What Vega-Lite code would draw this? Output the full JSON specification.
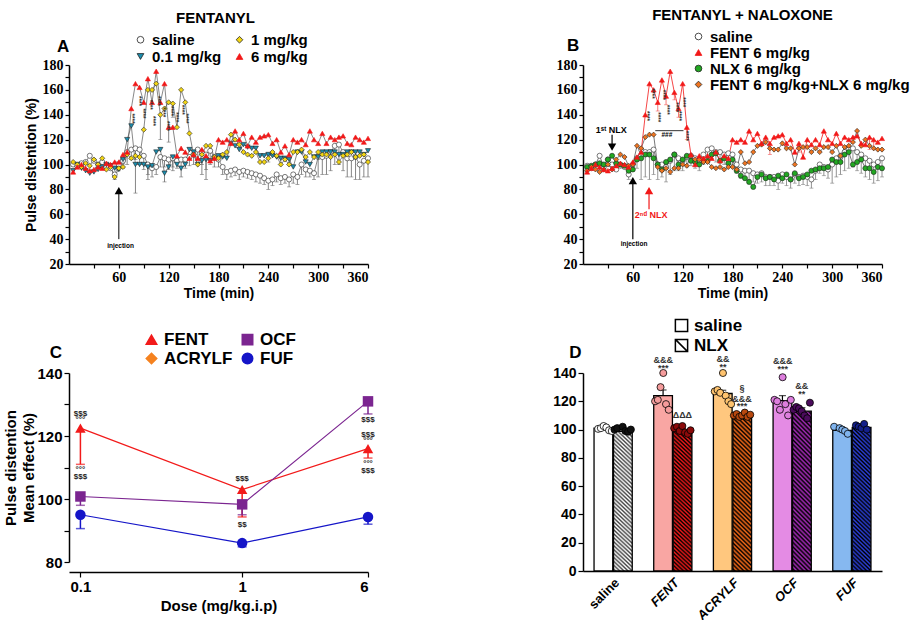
{
"$schema": "https://vega.github.io/schema/vega-lite/v6.json",
"background": "white",
"padding": {"left": 3, "top": 8, "right": 0, "bottom": 0},
"config": {
 "view": {"stroke": null},
 "font": "Liberation Sans",
 "axis": {"grid": false, "labelOverlap": false, "domainColor": "#000", "domainWidth": 1.5, "tickColor": "#000", "tickWidth": 1.2, "labelColor": "#000", "titleColor": "#000", "labelFontWeight": "bold", "titleFontWeight": "bold", "labelFont": "Liberation Sans", "titleFont": "Liberation Sans"},
 "legend": {"labelFont": "Liberation Sans", "labelFontWeight": "bold", "labelColor": "#000", "labelLimit": 400, "symbolOpacity": 1}
},
"datasets": {
"ts": [
{"p":"A","s":"saline","t":5,"v":100},{"p":"A","s":"saline","t":10,"v":99},{"p":"A","s":"saline","t":15,"v":101},{"p":"A","s":"saline","t":20,"v":102},{"p":"A","s":"saline","t":25,"v":107},{"p":"A","s":"saline","t":30,"v":103},{"p":"A","s":"saline","t":35,"v":100},{"p":"A","s":"saline","t":40,"v":102},{"p":"A","s":"saline","t":45,"v":98},{"p":"A","s":"saline","t":50,"v":97},{"p":"A","s":"saline","t":55,"v":92,"lo":88},{"p":"A","s":"saline","t":60,"v":100,"lo":95},{"p":"A","s":"saline","t":65,"v":103,"lo":97},{"p":"A","s":"saline","t":70,"v":110,"lo":100},{"p":"A","s":"saline","t":75,"v":112,"lo":104},{"p":"A","s":"saline","t":80,"v":113,"lo":104},{"p":"A","s":"saline","t":85,"v":112,"lo":100},{"p":"A","s":"saline","t":90,"v":107,"lo":96},{"p":"A","s":"saline","t":95,"v":100,"lo":92},{"p":"A","s":"saline","t":100,"v":97,"lo":90},{"p":"A","s":"saline","t":105,"v":98,"lo":92},{"p":"A","s":"saline","t":110,"v":106,"lo":98},{"p":"A","s":"saline","t":115,"v":105,"lo":98},{"p":"A","s":"saline","t":120,"v":104,"lo":96},{"p":"A","s":"saline","t":125,"v":105,"lo":98},{"p":"A","s":"saline","t":130,"v":103,"lo":97},{"p":"A","s":"saline","t":135,"v":104,"lo":98},{"p":"A","s":"saline","t":140,"v":104,"lo":97},{"p":"A","s":"saline","t":145,"v":106,"lo":99},{"p":"A","s":"saline","t":150,"v":108,"lo":100},{"p":"A","s":"saline","t":155,"v":112,"lo":104},{"p":"A","s":"saline","t":160,"v":110,"lo":100},{"p":"A","s":"saline","t":165,"v":108,"lo":96},{"p":"A","s":"saline","t":170,"v":111,"lo":100},{"p":"A","s":"saline","t":175,"v":106,"lo":98},{"p":"A","s":"saline","t":180,"v":104,"lo":98},{"p":"A","s":"saline","t":185,"v":98,"lo":92},{"p":"A","s":"saline","t":190,"v":94,"lo":88},{"p":"A","s":"saline","t":195,"v":95,"lo":90},{"p":"A","s":"saline","t":200,"v":96,"lo":91},{"p":"A","s":"saline","t":205,"v":94,"lo":88},{"p":"A","s":"saline","t":210,"v":95,"lo":90},{"p":"A","s":"saline","t":215,"v":94,"lo":89},{"p":"A","s":"saline","t":220,"v":93,"lo":88},{"p":"A","s":"saline","t":225,"v":92,"lo":86},{"p":"A","s":"saline","t":230,"v":91,"lo":85},{"p":"A","s":"saline","t":235,"v":89,"lo":84},{"p":"A","s":"saline","t":240,"v":87,"lo":80},{"p":"A","s":"saline","t":245,"v":88,"lo":83},{"p":"A","s":"saline","t":250,"v":92,"lo":86},{"p":"A","s":"saline","t":255,"v":89,"lo":84},{"p":"A","s":"saline","t":260,"v":90,"lo":85},{"p":"A","s":"saline","t":265,"v":88,"lo":82},{"p":"A","s":"saline","t":270,"v":92,"lo":85},{"p":"A","s":"saline","t":275,"v":90,"lo":84},{"p":"A","s":"saline","t":280,"v":100,"lo":92},{"p":"A","s":"saline","t":285,"v":96,"lo":90},{"p":"A","s":"saline","t":290,"v":95,"lo":90},{"p":"A","s":"saline","t":295,"v":93,"lo":88},{"p":"A","s":"saline","t":300,"v":106,"lo":90},{"p":"A","s":"saline","t":305,"v":106,"lo":92},{"p":"A","s":"saline","t":310,"v":107,"lo":92},{"p":"A","s":"saline","t":315,"v":110,"lo":95},{"p":"A","s":"saline","t":320,"v":115,"lo":100},{"p":"A","s":"saline","t":325,"v":116,"lo":100},{"p":"A","s":"saline","t":330,"v":110,"lo":95},{"p":"A","s":"saline","t":335,"v":105,"lo":90},{"p":"A","s":"saline","t":340,"v":105,"lo":90},{"p":"A","s":"saline","t":345,"v":106,"lo":88},{"p":"A","s":"saline","t":350,"v":100,"lo":88},{"p":"A","s":"saline","t":355,"v":103,"lo":90},{"p":"A","s":"saline","t":360,"v":105,"lo":90},
{"p":"A","s":"0.1 mg/kg","t":5,"v":95},{"p":"A","s":"0.1 mg/kg","t":10,"v":100},{"p":"A","s":"0.1 mg/kg","t":15,"v":97},{"p":"A","s":"0.1 mg/kg","t":20,"v":95},{"p":"A","s":"0.1 mg/kg","t":25,"v":93},{"p":"A","s":"0.1 mg/kg","t":30,"v":94},{"p":"A","s":"0.1 mg/kg","t":35,"v":96},{"p":"A","s":"0.1 mg/kg","t":40,"v":98},{"p":"A","s":"0.1 mg/kg","t":45,"v":100},{"p":"A","s":"0.1 mg/kg","t":50,"v":99},{"p":"A","s":"0.1 mg/kg","t":55,"v":97},{"p":"A","s":"0.1 mg/kg","t":60,"v":96},{"p":"A","s":"0.1 mg/kg","t":65,"v":104},{"p":"A","s":"0.1 mg/kg","t":70,"v":120},{"p":"A","s":"0.1 mg/kg","t":75,"v":131},{"p":"A","s":"0.1 mg/kg","t":80,"v":100,"lo":77},{"p":"A","s":"0.1 mg/kg","t":85,"v":100},{"p":"A","s":"0.1 mg/kg","t":90,"v":100},{"p":"A","s":"0.1 mg/kg","t":95,"v":98,"lo":88},{"p":"A","s":"0.1 mg/kg","t":100,"v":99},{"p":"A","s":"0.1 mg/kg","t":105,"v":110},{"p":"A","s":"0.1 mg/kg","t":110,"v":112},{"p":"A","s":"0.1 mg/kg","t":115,"v":93,"lo":86},{"p":"A","s":"0.1 mg/kg","t":120,"v":98},{"p":"A","s":"0.1 mg/kg","t":125,"v":106,"lo":95},{"p":"A","s":"0.1 mg/kg","t":130,"v":100},{"p":"A","s":"0.1 mg/kg","t":135,"v":97,"lo":90},{"p":"A","s":"0.1 mg/kg","t":140,"v":100},{"p":"A","s":"0.1 mg/kg","t":145,"v":112},{"p":"A","s":"0.1 mg/kg","t":150,"v":110},{"p":"A","s":"0.1 mg/kg","t":155,"v":100},{"p":"A","s":"0.1 mg/kg","t":160,"v":103,"lo":92},{"p":"A","s":"0.1 mg/kg","t":165,"v":104,"lo":88},{"p":"A","s":"0.1 mg/kg","t":170,"v":103},{"p":"A","s":"0.1 mg/kg","t":175,"v":105},{"p":"A","s":"0.1 mg/kg","t":180,"v":107},{"p":"A","s":"0.1 mg/kg","t":185,"v":106},{"p":"A","s":"0.1 mg/kg","t":190,"v":105},{"p":"A","s":"0.1 mg/kg","t":195,"v":117},{"p":"A","s":"0.1 mg/kg","t":200,"v":115},{"p":"A","s":"0.1 mg/kg","t":205,"v":112},{"p":"A","s":"0.1 mg/kg","t":210,"v":116},{"p":"A","s":"0.1 mg/kg","t":215,"v":114},{"p":"A","s":"0.1 mg/kg","t":220,"v":113},{"p":"A","s":"0.1 mg/kg","t":225,"v":113},{"p":"A","s":"0.1 mg/kg","t":230,"v":107},{"p":"A","s":"0.1 mg/kg","t":235,"v":107},{"p":"A","s":"0.1 mg/kg","t":240,"v":108,"lo":102},{"p":"A","s":"0.1 mg/kg","t":245,"v":107},{"p":"A","s":"0.1 mg/kg","t":250,"v":106},{"p":"A","s":"0.1 mg/kg","t":255,"v":105,"lo":100},{"p":"A","s":"0.1 mg/kg","t":260,"v":105},{"p":"A","s":"0.1 mg/kg","t":265,"v":104},{"p":"A","s":"0.1 mg/kg","t":270,"v":98},{"p":"A","s":"0.1 mg/kg","t":275,"v":110},{"p":"A","s":"0.1 mg/kg","t":280,"v":110},{"p":"A","s":"0.1 mg/kg","t":285,"v":102},{"p":"A","s":"0.1 mg/kg","t":290,"v":100},{"p":"A","s":"0.1 mg/kg","t":295,"v":106},{"p":"A","s":"0.1 mg/kg","t":300,"v":106},{"p":"A","s":"0.1 mg/kg","t":305,"v":110},{"p":"A","s":"0.1 mg/kg","t":310,"v":110},{"p":"A","s":"0.1 mg/kg","t":315,"v":110},{"p":"A","s":"0.1 mg/kg","t":320,"v":110},{"p":"A","s":"0.1 mg/kg","t":325,"v":108},{"p":"A","s":"0.1 mg/kg","t":330,"v":108},{"p":"A","s":"0.1 mg/kg","t":335,"v":110},{"p":"A","s":"0.1 mg/kg","t":340,"v":110},{"p":"A","s":"0.1 mg/kg","t":345,"v":110},{"p":"A","s":"0.1 mg/kg","t":350,"v":110},{"p":"A","s":"0.1 mg/kg","t":355,"v":108},{"p":"A","s":"0.1 mg/kg","t":360,"v":111},
{"p":"A","s":"1 mg/kg","t":5,"v":102},{"p":"A","s":"1 mg/kg","t":10,"v":100},{"p":"A","s":"1 mg/kg","t":15,"v":98},{"p":"A","s":"1 mg/kg","t":20,"v":101},{"p":"A","s":"1 mg/kg","t":25,"v":99},{"p":"A","s":"1 mg/kg","t":30,"v":104},{"p":"A","s":"1 mg/kg","t":35,"v":100},{"p":"A","s":"1 mg/kg","t":40,"v":105},{"p":"A","s":"1 mg/kg","t":45,"v":96},{"p":"A","s":"1 mg/kg","t":50,"v":98},{"p":"A","s":"1 mg/kg","t":55,"v":90},{"p":"A","s":"1 mg/kg","t":60,"v":97},{"p":"A","s":"1 mg/kg","t":65,"v":98},{"p":"A","s":"1 mg/kg","t":70,"v":108},{"p":"A","s":"1 mg/kg","t":75,"v":105},{"p":"A","s":"1 mg/kg","t":80,"v":107},{"p":"A","s":"1 mg/kg","t":85,"v":106},{"p":"A","s":"1 mg/kg","t":90,"v":128},{"p":"A","s":"1 mg/kg","t":95,"v":160},{"p":"A","s":"1 mg/kg","t":100,"v":160},{"p":"A","s":"1 mg/kg","t":105,"v":165},{"p":"A","s":"1 mg/kg","t":110,"v":140,"lo":120},{"p":"A","s":"1 mg/kg","t":115,"v":145},{"p":"A","s":"1 mg/kg","t":120,"v":150},{"p":"A","s":"1 mg/kg","t":125,"v":149,"lo":138},{"p":"A","s":"1 mg/kg","t":130,"v":130},{"p":"A","s":"1 mg/kg","t":135,"v":160},{"p":"A","s":"1 mg/kg","t":140,"v":150},{"p":"A","s":"1 mg/kg","t":145,"v":125},{"p":"A","s":"1 mg/kg","t":150,"v":108},{"p":"A","s":"1 mg/kg","t":155,"v":100},{"p":"A","s":"1 mg/kg","t":160,"v":108},{"p":"A","s":"1 mg/kg","t":165,"v":115},{"p":"A","s":"1 mg/kg","t":170,"v":115},{"p":"A","s":"1 mg/kg","t":175,"v":106},{"p":"A","s":"1 mg/kg","t":180,"v":105},{"p":"A","s":"1 mg/kg","t":185,"v":108},{"p":"A","s":"1 mg/kg","t":190,"v":110},{"p":"A","s":"1 mg/kg","t":195,"v":124},{"p":"A","s":"1 mg/kg","t":200,"v":120},{"p":"A","s":"1 mg/kg","t":205,"v":116},{"p":"A","s":"1 mg/kg","t":210,"v":110},{"p":"A","s":"1 mg/kg","t":215,"v":108},{"p":"A","s":"1 mg/kg","t":220,"v":107},{"p":"A","s":"1 mg/kg","t":225,"v":110},{"p":"A","s":"1 mg/kg","t":230,"v":102},{"p":"A","s":"1 mg/kg","t":235,"v":102},{"p":"A","s":"1 mg/kg","t":240,"v":105},{"p":"A","s":"1 mg/kg","t":245,"v":110},{"p":"A","s":"1 mg/kg","t":250,"v":107},{"p":"A","s":"1 mg/kg","t":255,"v":100},{"p":"A","s":"1 mg/kg","t":260,"v":104},{"p":"A","s":"1 mg/kg","t":265,"v":100},{"p":"A","s":"1 mg/kg","t":270,"v":110},{"p":"A","s":"1 mg/kg","t":275,"v":110},{"p":"A","s":"1 mg/kg","t":280,"v":112},{"p":"A","s":"1 mg/kg","t":285,"v":106},{"p":"A","s":"1 mg/kg","t":290,"v":110},{"p":"A","s":"1 mg/kg","t":295,"v":106},{"p":"A","s":"1 mg/kg","t":300,"v":110},{"p":"A","s":"1 mg/kg","t":305,"v":108},{"p":"A","s":"1 mg/kg","t":310,"v":108},{"p":"A","s":"1 mg/kg","t":315,"v":106},{"p":"A","s":"1 mg/kg","t":320,"v":108},{"p":"A","s":"1 mg/kg","t":325,"v":102},{"p":"A","s":"1 mg/kg","t":330,"v":107},{"p":"A","s":"1 mg/kg","t":335,"v":108},{"p":"A","s":"1 mg/kg","t":340,"v":110},{"p":"A","s":"1 mg/kg","t":345,"v":106},{"p":"A","s":"1 mg/kg","t":350,"v":107},{"p":"A","s":"1 mg/kg","t":355,"v":108},{"p":"A","s":"1 mg/kg","t":360,"v":102},
{"p":"A","s":"6 mg/kg","t":5,"v":94},{"p":"A","s":"6 mg/kg","t":10,"v":98},{"p":"A","s":"6 mg/kg","t":15,"v":100},{"p":"A","s":"6 mg/kg","t":20,"v":97},{"p":"A","s":"6 mg/kg","t":25,"v":95},{"p":"A","s":"6 mg/kg","t":30,"v":96},{"p":"A","s":"6 mg/kg","t":35,"v":98},{"p":"A","s":"6 mg/kg","t":40,"v":97},{"p":"A","s":"6 mg/kg","t":45,"v":101},{"p":"A","s":"6 mg/kg","t":50,"v":100},{"p":"A","s":"6 mg/kg","t":55,"v":102},{"p":"A","s":"6 mg/kg","t":60,"v":102},{"p":"A","s":"6 mg/kg","t":65,"v":108},{"p":"A","s":"6 mg/kg","t":70,"v":110},{"p":"A","s":"6 mg/kg","t":75,"v":145},{"p":"A","s":"6 mg/kg","t":80,"v":165},{"p":"A","s":"6 mg/kg","t":85,"v":162},{"p":"A","s":"6 mg/kg","t":90,"v":150},{"p":"A","s":"6 mg/kg","t":95,"v":169},{"p":"A","s":"6 mg/kg","t":100,"v":150},{"p":"A","s":"6 mg/kg","t":105,"v":175},{"p":"A","s":"6 mg/kg","t":110,"v":150},{"p":"A","s":"6 mg/kg","t":115,"v":165},{"p":"A","s":"6 mg/kg","t":120,"v":130,"lo":118},{"p":"A","s":"6 mg/kg","t":125,"v":130},{"p":"A","s":"6 mg/kg","t":130,"v":107},{"p":"A","s":"6 mg/kg","t":135,"v":113},{"p":"A","s":"6 mg/kg","t":140,"v":110},{"p":"A","s":"6 mg/kg","t":145,"v":105},{"p":"A","s":"6 mg/kg","t":150,"v":108},{"p":"A","s":"6 mg/kg","t":155,"v":105},{"p":"A","s":"6 mg/kg","t":160,"v":112},{"p":"A","s":"6 mg/kg","t":165,"v":107},{"p":"A","s":"6 mg/kg","t":170,"v":103},{"p":"A","s":"6 mg/kg","t":175,"v":105},{"p":"A","s":"6 mg/kg","t":180,"v":120},{"p":"A","s":"6 mg/kg","t":185,"v":118},{"p":"A","s":"6 mg/kg","t":190,"v":120},{"p":"A","s":"6 mg/kg","t":195,"v":117},{"p":"A","s":"6 mg/kg","t":200,"v":127},{"p":"A","s":"6 mg/kg","t":205,"v":120},{"p":"A","s":"6 mg/kg","t":210,"v":125},{"p":"A","s":"6 mg/kg","t":215,"v":115},{"p":"A","s":"6 mg/kg","t":220,"v":122},{"p":"A","s":"6 mg/kg","t":225,"v":118},{"p":"A","s":"6 mg/kg","t":230,"v":122},{"p":"A","s":"6 mg/kg","t":235,"v":123},{"p":"A","s":"6 mg/kg","t":240,"v":124},{"p":"A","s":"6 mg/kg","t":245,"v":117},{"p":"A","s":"6 mg/kg","t":250,"v":120},{"p":"A","s":"6 mg/kg","t":255,"v":110},{"p":"A","s":"6 mg/kg","t":260,"v":115},{"p":"A","s":"6 mg/kg","t":265,"v":108},{"p":"A","s":"6 mg/kg","t":270,"v":120},{"p":"A","s":"6 mg/kg","t":275,"v":118},{"p":"A","s":"6 mg/kg","t":280,"v":120},{"p":"A","s":"6 mg/kg","t":285,"v":116},{"p":"A","s":"6 mg/kg","t":290,"v":127},{"p":"A","s":"6 mg/kg","t":295,"v":120},{"p":"A","s":"6 mg/kg","t":300,"v":117},{"p":"A","s":"6 mg/kg","t":305,"v":125},{"p":"A","s":"6 mg/kg","t":310,"v":117},{"p":"A","s":"6 mg/kg","t":315,"v":122},{"p":"A","s":"6 mg/kg","t":320,"v":120},{"p":"A","s":"6 mg/kg","t":325,"v":122},{"p":"A","s":"6 mg/kg","t":330,"v":123},{"p":"A","s":"6 mg/kg","t":335,"v":117},{"p":"A","s":"6 mg/kg","t":340,"v":116},{"p":"A","s":"6 mg/kg","t":345,"v":122},{"p":"A","s":"6 mg/kg","t":350,"v":120},{"p":"A","s":"6 mg/kg","t":355,"v":118},{"p":"A","s":"6 mg/kg","t":360,"v":121},
{"p":"B","s":"saline","t":5,"v":99},{"p":"B","s":"saline","t":10,"v":97},{"p":"B","s":"saline","t":15,"v":100},{"p":"B","s":"saline","t":20,"v":107},{"p":"B","s":"saline","t":25,"v":98},{"p":"B","s":"saline","t":30,"v":104},{"p":"B","s":"saline","t":35,"v":100},{"p":"B","s":"saline","t":40,"v":96},{"p":"B","s":"saline","t":45,"v":99},{"p":"B","s":"saline","t":50,"v":98},{"p":"B","s":"saline","t":55,"v":92,"lo":88},{"p":"B","s":"saline","t":60,"v":100,"lo":96},{"p":"B","s":"saline","t":65,"v":105,"lo":97},{"p":"B","s":"saline","t":70,"v":112,"lo":88},{"p":"B","s":"saline","t":75,"v":110,"lo":90},{"p":"B","s":"saline","t":80,"v":110,"lo":88},{"p":"B","s":"saline","t":85,"v":112,"lo":92},{"p":"B","s":"saline","t":90,"v":100,"lo":88},{"p":"B","s":"saline","t":95,"v":100,"lo":90},{"p":"B","s":"saline","t":100,"v":98,"lo":86},{"p":"B","s":"saline","t":105,"v":103,"lo":92},{"p":"B","s":"saline","t":110,"v":108,"lo":95},{"p":"B","s":"saline","t":115,"v":105,"lo":95},{"p":"B","s":"saline","t":120,"v":103,"lo":95},{"p":"B","s":"saline","t":125,"v":106,"lo":98},{"p":"B","s":"saline","t":130,"v":107,"lo":99},{"p":"B","s":"saline","t":135,"v":105,"lo":97},{"p":"B","s":"saline","t":140,"v":103,"lo":95},{"p":"B","s":"saline","t":145,"v":108,"lo":100},{"p":"B","s":"saline","t":150,"v":112,"lo":104},{"p":"B","s":"saline","t":155,"v":113,"lo":105},{"p":"B","s":"saline","t":160,"v":110,"lo":102},{"p":"B","s":"saline","t":165,"v":110,"lo":102},{"p":"B","s":"saline","t":170,"v":108,"lo":100},{"p":"B","s":"saline","t":175,"v":109,"lo":101},{"p":"B","s":"saline","t":180,"v":108,"lo":100},{"p":"B","s":"saline","t":185,"v":100,"lo":93},{"p":"B","s":"saline","t":190,"v":96,"lo":89},{"p":"B","s":"saline","t":195,"v":95,"lo":88},{"p":"B","s":"saline","t":200,"v":95,"lo":88},{"p":"B","s":"saline","t":205,"v":93,"lo":86},{"p":"B","s":"saline","t":210,"v":92,"lo":85},{"p":"B","s":"saline","t":215,"v":93,"lo":86},{"p":"B","s":"saline","t":220,"v":90,"lo":83},{"p":"B","s":"saline","t":225,"v":90,"lo":83},{"p":"B","s":"saline","t":230,"v":90,"lo":83},{"p":"B","s":"saline","t":235,"v":87,"lo":80},{"p":"B","s":"saline","t":240,"v":92,"lo":85},{"p":"B","s":"saline","t":245,"v":90,"lo":83},{"p":"B","s":"saline","t":250,"v":88,"lo":81},{"p":"B","s":"saline","t":255,"v":92,"lo":85},{"p":"B","s":"saline","t":260,"v":90,"lo":83},{"p":"B","s":"saline","t":265,"v":91,"lo":84},{"p":"B","s":"saline","t":270,"v":90,"lo":83},{"p":"B","s":"saline","t":275,"v":88,"lo":81},{"p":"B","s":"saline","t":280,"v":95,"lo":88},{"p":"B","s":"saline","t":285,"v":100,"lo":93},{"p":"B","s":"saline","t":290,"v":98,"lo":91},{"p":"B","s":"saline","t":295,"v":96,"lo":89},{"p":"B","s":"saline","t":300,"v":100,"lo":85},{"p":"B","s":"saline","t":305,"v":105,"lo":90},{"p":"B","s":"saline","t":310,"v":107,"lo":92},{"p":"B","s":"saline","t":315,"v":110,"lo":95},{"p":"B","s":"saline","t":320,"v":112,"lo":97},{"p":"B","s":"saline","t":325,"v":113,"lo":98},{"p":"B","s":"saline","t":330,"v":110,"lo":95},{"p":"B","s":"saline","t":335,"v":108,"lo":93},{"p":"B","s":"saline","t":340,"v":105,"lo":90},{"p":"B","s":"saline","t":345,"v":103,"lo":88},{"p":"B","s":"saline","t":350,"v":100,"lo":85},{"p":"B","s":"saline","t":355,"v":102,"lo":87},{"p":"B","s":"saline","t":360,"v":105,"lo":90},
{"p":"B","s":"NLX 6 mg/kg","t":5,"v":98},{"p":"B","s":"NLX 6 mg/kg","t":10,"v":99},{"p":"B","s":"NLX 6 mg/kg","t":15,"v":100},{"p":"B","s":"NLX 6 mg/kg","t":20,"v":101},{"p":"B","s":"NLX 6 mg/kg","t":25,"v":100},{"p":"B","s":"NLX 6 mg/kg","t":30,"v":104},{"p":"B","s":"NLX 6 mg/kg","t":35,"v":107},{"p":"B","s":"NLX 6 mg/kg","t":40,"v":101},{"p":"B","s":"NLX 6 mg/kg","t":45,"v":100},{"p":"B","s":"NLX 6 mg/kg","t":50,"v":99},{"p":"B","s":"NLX 6 mg/kg","t":55,"v":95},{"p":"B","s":"NLX 6 mg/kg","t":60,"v":96},{"p":"B","s":"NLX 6 mg/kg","t":65,"v":104},{"p":"B","s":"NLX 6 mg/kg","t":70,"v":105},{"p":"B","s":"NLX 6 mg/kg","t":75,"v":108},{"p":"B","s":"NLX 6 mg/kg","t":80,"v":108},{"p":"B","s":"NLX 6 mg/kg","t":85,"v":105},{"p":"B","s":"NLX 6 mg/kg","t":90,"v":100},{"p":"B","s":"NLX 6 mg/kg","t":95,"v":96},{"p":"B","s":"NLX 6 mg/kg","t":100,"v":102},{"p":"B","s":"NLX 6 mg/kg","t":105,"v":104},{"p":"B","s":"NLX 6 mg/kg","t":110,"v":108},{"p":"B","s":"NLX 6 mg/kg","t":115,"v":100},{"p":"B","s":"NLX 6 mg/kg","t":120,"v":104},{"p":"B","s":"NLX 6 mg/kg","t":125,"v":107},{"p":"B","s":"NLX 6 mg/kg","t":130,"v":103},{"p":"B","s":"NLX 6 mg/kg","t":135,"v":102},{"p":"B","s":"NLX 6 mg/kg","t":140,"v":100},{"p":"B","s":"NLX 6 mg/kg","t":145,"v":103},{"p":"B","s":"NLX 6 mg/kg","t":150,"v":103},{"p":"B","s":"NLX 6 mg/kg","t":155,"v":108},{"p":"B","s":"NLX 6 mg/kg","t":160,"v":109},{"p":"B","s":"NLX 6 mg/kg","t":165,"v":103},{"p":"B","s":"NLX 6 mg/kg","t":170,"v":105},{"p":"B","s":"NLX 6 mg/kg","t":175,"v":101},{"p":"B","s":"NLX 6 mg/kg","t":180,"v":104},{"p":"B","s":"NLX 6 mg/kg","t":185,"v":95},{"p":"B","s":"NLX 6 mg/kg","t":190,"v":91},{"p":"B","s":"NLX 6 mg/kg","t":195,"v":89},{"p":"B","s":"NLX 6 mg/kg","t":200,"v":86},{"p":"B","s":"NLX 6 mg/kg","t":205,"v":82},{"p":"B","s":"NLX 6 mg/kg","t":210,"v":90},{"p":"B","s":"NLX 6 mg/kg","t":215,"v":92},{"p":"B","s":"NLX 6 mg/kg","t":220,"v":89},{"p":"B","s":"NLX 6 mg/kg","t":225,"v":90},{"p":"B","s":"NLX 6 mg/kg","t":230,"v":88},{"p":"B","s":"NLX 6 mg/kg","t":235,"v":91},{"p":"B","s":"NLX 6 mg/kg","t":240,"v":89},{"p":"B","s":"NLX 6 mg/kg","t":245,"v":92},{"p":"B","s":"NLX 6 mg/kg","t":250,"v":88},{"p":"B","s":"NLX 6 mg/kg","t":255,"v":93},{"p":"B","s":"NLX 6 mg/kg","t":260,"v":89},{"p":"B","s":"NLX 6 mg/kg","t":265,"v":90},{"p":"B","s":"NLX 6 mg/kg","t":270,"v":92},{"p":"B","s":"NLX 6 mg/kg","t":275,"v":95},{"p":"B","s":"NLX 6 mg/kg","t":280,"v":96},{"p":"B","s":"NLX 6 mg/kg","t":285,"v":97},{"p":"B","s":"NLX 6 mg/kg","t":290,"v":97},{"p":"B","s":"NLX 6 mg/kg","t":295,"v":98},{"p":"B","s":"NLX 6 mg/kg","t":300,"v":104},{"p":"B","s":"NLX 6 mg/kg","t":305,"v":102},{"p":"B","s":"NLX 6 mg/kg","t":310,"v":102},{"p":"B","s":"NLX 6 mg/kg","t":315,"v":108},{"p":"B","s":"NLX 6 mg/kg","t":320,"v":110},{"p":"B","s":"NLX 6 mg/kg","t":325,"v":100},{"p":"B","s":"NLX 6 mg/kg","t":330,"v":102},{"p":"B","s":"NLX 6 mg/kg","t":335,"v":104},{"p":"B","s":"NLX 6 mg/kg","t":340,"v":97},{"p":"B","s":"NLX 6 mg/kg","t":345,"v":97},{"p":"B","s":"NLX 6 mg/kg","t":350,"v":94},{"p":"B","s":"NLX 6 mg/kg","t":355,"v":98},{"p":"B","s":"NLX 6 mg/kg","t":360,"v":97},
{"p":"B","s":"FENT 6 mg/kg+NLX 6 mg/kg","t":5,"v":95},{"p":"B","s":"FENT 6 mg/kg+NLX 6 mg/kg","t":10,"v":98},{"p":"B","s":"FENT 6 mg/kg+NLX 6 mg/kg","t":15,"v":96},{"p":"B","s":"FENT 6 mg/kg+NLX 6 mg/kg","t":20,"v":94},{"p":"B","s":"FENT 6 mg/kg+NLX 6 mg/kg","t":25,"v":96},{"p":"B","s":"FENT 6 mg/kg+NLX 6 mg/kg","t":30,"v":100},{"p":"B","s":"FENT 6 mg/kg+NLX 6 mg/kg","t":35,"v":96},{"p":"B","s":"FENT 6 mg/kg+NLX 6 mg/kg","t":40,"v":104},{"p":"B","s":"FENT 6 mg/kg+NLX 6 mg/kg","t":45,"v":108},{"p":"B","s":"FENT 6 mg/kg+NLX 6 mg/kg","t":50,"v":106},{"p":"B","s":"FENT 6 mg/kg+NLX 6 mg/kg","t":55,"v":99},{"p":"B","s":"FENT 6 mg/kg+NLX 6 mg/kg","t":60,"v":100},{"p":"B","s":"FENT 6 mg/kg+NLX 6 mg/kg","t":65,"v":115},{"p":"B","s":"FENT 6 mg/kg+NLX 6 mg/kg","t":70,"v":113},{"p":"B","s":"FENT 6 mg/kg+NLX 6 mg/kg","t":75,"v":122},{"p":"B","s":"FENT 6 mg/kg+NLX 6 mg/kg","t":80,"v":124},{"p":"B","s":"FENT 6 mg/kg+NLX 6 mg/kg","t":85,"v":124},{"p":"B","s":"FENT 6 mg/kg+NLX 6 mg/kg","t":90,"v":98},{"p":"B","s":"FENT 6 mg/kg+NLX 6 mg/kg","t":95,"v":95},{"p":"B","s":"FENT 6 mg/kg+NLX 6 mg/kg","t":100,"v":97},{"p":"B","s":"FENT 6 mg/kg+NLX 6 mg/kg","t":105,"v":94},{"p":"B","s":"FENT 6 mg/kg+NLX 6 mg/kg","t":110,"v":97},{"p":"B","s":"FENT 6 mg/kg+NLX 6 mg/kg","t":115,"v":97},{"p":"B","s":"FENT 6 mg/kg+NLX 6 mg/kg","t":120,"v":100},{"p":"B","s":"FENT 6 mg/kg+NLX 6 mg/kg","t":125,"v":99},{"p":"B","s":"FENT 6 mg/kg+NLX 6 mg/kg","t":130,"v":107},{"p":"B","s":"FENT 6 mg/kg+NLX 6 mg/kg","t":135,"v":104},{"p":"B","s":"FENT 6 mg/kg+NLX 6 mg/kg","t":140,"v":104},{"p":"B","s":"FENT 6 mg/kg+NLX 6 mg/kg","t":145,"v":102},{"p":"B","s":"FENT 6 mg/kg+NLX 6 mg/kg","t":150,"v":102},{"p":"B","s":"FENT 6 mg/kg+NLX 6 mg/kg","t":155,"v":98},{"p":"B","s":"FENT 6 mg/kg+NLX 6 mg/kg","t":160,"v":97},{"p":"B","s":"FENT 6 mg/kg+NLX 6 mg/kg","t":165,"v":98},{"p":"B","s":"FENT 6 mg/kg+NLX 6 mg/kg","t":170,"v":96},{"p":"B","s":"FENT 6 mg/kg+NLX 6 mg/kg","t":175,"v":98},{"p":"B","s":"FENT 6 mg/kg+NLX 6 mg/kg","t":180,"v":98},{"p":"B","s":"FENT 6 mg/kg+NLX 6 mg/kg","t":185,"v":96},{"p":"B","s":"FENT 6 mg/kg+NLX 6 mg/kg","t":190,"v":110},{"p":"B","s":"FENT 6 mg/kg+NLX 6 mg/kg","t":195,"v":101},{"p":"B","s":"FENT 6 mg/kg+NLX 6 mg/kg","t":200,"v":102},{"p":"B","s":"FENT 6 mg/kg+NLX 6 mg/kg","t":205,"v":110},{"p":"B","s":"FENT 6 mg/kg+NLX 6 mg/kg","t":210,"v":115},{"p":"B","s":"FENT 6 mg/kg+NLX 6 mg/kg","t":215,"v":116},{"p":"B","s":"FENT 6 mg/kg+NLX 6 mg/kg","t":220,"v":118},{"p":"B","s":"FENT 6 mg/kg+NLX 6 mg/kg","t":225,"v":113},{"p":"B","s":"FENT 6 mg/kg+NLX 6 mg/kg","t":230,"v":112},{"p":"B","s":"FENT 6 mg/kg+NLX 6 mg/kg","t":235,"v":112},{"p":"B","s":"FENT 6 mg/kg+NLX 6 mg/kg","t":240,"v":117},{"p":"B","s":"FENT 6 mg/kg+NLX 6 mg/kg","t":245,"v":113},{"p":"B","s":"FENT 6 mg/kg+NLX 6 mg/kg","t":250,"v":113},{"p":"B","s":"FENT 6 mg/kg+NLX 6 mg/kg","t":255,"v":100},{"p":"B","s":"FENT 6 mg/kg+NLX 6 mg/kg","t":260,"v":113},{"p":"B","s":"FENT 6 mg/kg+NLX 6 mg/kg","t":265,"v":114},{"p":"B","s":"FENT 6 mg/kg+NLX 6 mg/kg","t":270,"v":114},{"p":"B","s":"FENT 6 mg/kg+NLX 6 mg/kg","t":275,"v":110},{"p":"B","s":"FENT 6 mg/kg+NLX 6 mg/kg","t":280,"v":113},{"p":"B","s":"FENT 6 mg/kg+NLX 6 mg/kg","t":285,"v":110},{"p":"B","s":"FENT 6 mg/kg+NLX 6 mg/kg","t":290,"v":114},{"p":"B","s":"FENT 6 mg/kg+NLX 6 mg/kg","t":295,"v":114},{"p":"B","s":"FENT 6 mg/kg+NLX 6 mg/kg","t":300,"v":110},{"p":"B","s":"FENT 6 mg/kg+NLX 6 mg/kg","t":305,"v":115},{"p":"B","s":"FENT 6 mg/kg+NLX 6 mg/kg","t":310,"v":107},{"p":"B","s":"FENT 6 mg/kg+NLX 6 mg/kg","t":315,"v":114},{"p":"B","s":"FENT 6 mg/kg+NLX 6 mg/kg","t":320,"v":115},{"p":"B","s":"FENT 6 mg/kg+NLX 6 mg/kg","t":325,"v":118},{"p":"B","s":"FENT 6 mg/kg+NLX 6 mg/kg","t":330,"v":127},{"p":"B","s":"FENT 6 mg/kg+NLX 6 mg/kg","t":335,"v":115},{"p":"B","s":"FENT 6 mg/kg+NLX 6 mg/kg","t":340,"v":120},{"p":"B","s":"FENT 6 mg/kg+NLX 6 mg/kg","t":345,"v":115},{"p":"B","s":"FENT 6 mg/kg+NLX 6 mg/kg","t":350,"v":113},{"p":"B","s":"FENT 6 mg/kg+NLX 6 mg/kg","t":355,"v":112},{"p":"B","s":"FENT 6 mg/kg+NLX 6 mg/kg","t":360,"v":112},
{"p":"B","s":"FENT 6 mg/kg","t":5,"v":94},{"p":"B","s":"FENT 6 mg/kg","t":10,"v":97},{"p":"B","s":"FENT 6 mg/kg","t":15,"v":100},{"p":"B","s":"FENT 6 mg/kg","t":20,"v":98},{"p":"B","s":"FENT 6 mg/kg","t":25,"v":96},{"p":"B","s":"FENT 6 mg/kg","t":30,"v":95},{"p":"B","s":"FENT 6 mg/kg","t":35,"v":97},{"p":"B","s":"FENT 6 mg/kg","t":40,"v":99},{"p":"B","s":"FENT 6 mg/kg","t":45,"v":101},{"p":"B","s":"FENT 6 mg/kg","t":50,"v":100},{"p":"B","s":"FENT 6 mg/kg","t":55,"v":98},{"p":"B","s":"FENT 6 mg/kg","t":60,"v":102},{"p":"B","s":"FENT 6 mg/kg","t":65,"v":106},{"p":"B","s":"FENT 6 mg/kg","t":70,"v":110},{"p":"B","s":"FENT 6 mg/kg","t":75,"v":140},{"p":"B","s":"FENT 6 mg/kg","t":80,"v":165},{"p":"B","s":"FENT 6 mg/kg","t":85,"v":160},{"p":"B","s":"FENT 6 mg/kg","t":90,"v":150,"lo":143},{"p":"B","s":"FENT 6 mg/kg","t":95,"v":168},{"p":"B","s":"FENT 6 mg/kg","t":100,"v":155,"lo":148},{"p":"B","s":"FENT 6 mg/kg","t":105,"v":175},{"p":"B","s":"FENT 6 mg/kg","t":110,"v":158,"lo":152},{"p":"B","s":"FENT 6 mg/kg","t":115,"v":145,"lo":138},{"p":"B","s":"FENT 6 mg/kg","t":120,"v":165},{"p":"B","s":"FENT 6 mg/kg","t":125,"v":130,"lo":120},{"p":"B","s":"FENT 6 mg/kg","t":130,"v":108},{"p":"B","s":"FENT 6 mg/kg","t":135,"v":100},{"p":"B","s":"FENT 6 mg/kg","t":140,"v":107},{"p":"B","s":"FENT 6 mg/kg","t":145,"v":105},{"p":"B","s":"FENT 6 mg/kg","t":150,"v":107},{"p":"B","s":"FENT 6 mg/kg","t":155,"v":105},{"p":"B","s":"FENT 6 mg/kg","t":160,"v":110},{"p":"B","s":"FENT 6 mg/kg","t":165,"v":103},{"p":"B","s":"FENT 6 mg/kg","t":170,"v":107},{"p":"B","s":"FENT 6 mg/kg","t":175,"v":105},{"p":"B","s":"FENT 6 mg/kg","t":180,"v":120},{"p":"B","s":"FENT 6 mg/kg","t":185,"v":118},{"p":"B","s":"FENT 6 mg/kg","t":190,"v":120},{"p":"B","s":"FENT 6 mg/kg","t":195,"v":118},{"p":"B","s":"FENT 6 mg/kg","t":200,"v":127},{"p":"B","s":"FENT 6 mg/kg","t":205,"v":120},{"p":"B","s":"FENT 6 mg/kg","t":210,"v":125},{"p":"B","s":"FENT 6 mg/kg","t":215,"v":117},{"p":"B","s":"FENT 6 mg/kg","t":220,"v":122},{"p":"B","s":"FENT 6 mg/kg","t":225,"v":117,"lo":108},{"p":"B","s":"FENT 6 mg/kg","t":230,"v":122},{"p":"B","s":"FENT 6 mg/kg","t":235,"v":123},{"p":"B","s":"FENT 6 mg/kg","t":240,"v":124},{"p":"B","s":"FENT 6 mg/kg","t":245,"v":117},{"p":"B","s":"FENT 6 mg/kg","t":250,"v":120},{"p":"B","s":"FENT 6 mg/kg","t":255,"v":110},{"p":"B","s":"FENT 6 mg/kg","t":260,"v":117,"lo":110},{"p":"B","s":"FENT 6 mg/kg","t":265,"v":106},{"p":"B","s":"FENT 6 mg/kg","t":270,"v":120},{"p":"B","s":"FENT 6 mg/kg","t":275,"v":116},{"p":"B","s":"FENT 6 mg/kg","t":280,"v":120},{"p":"B","s":"FENT 6 mg/kg","t":285,"v":116},{"p":"B","s":"FENT 6 mg/kg","t":290,"v":127},{"p":"B","s":"FENT 6 mg/kg","t":295,"v":120},{"p":"B","s":"FENT 6 mg/kg","t":300,"v":117},{"p":"B","s":"FENT 6 mg/kg","t":305,"v":125},{"p":"B","s":"FENT 6 mg/kg","t":310,"v":117},{"p":"B","s":"FENT 6 mg/kg","t":315,"v":122},{"p":"B","s":"FENT 6 mg/kg","t":320,"v":120},{"p":"B","s":"FENT 6 mg/kg","t":325,"v":122},{"p":"B","s":"FENT 6 mg/kg","t":330,"v":123},{"p":"B","s":"FENT 6 mg/kg","t":335,"v":117},{"p":"B","s":"FENT 6 mg/kg","t":340,"v":116},{"p":"B","s":"FENT 6 mg/kg","t":345,"v":122,"lo":112},{"p":"B","s":"FENT 6 mg/kg","t":350,"v":120,"lo":113},{"p":"B","s":"FENT 6 mg/kg","t":355,"v":118},{"p":"B","s":"FENT 6 mg/kg","t":360,"v":121}
],
"arr": [
{"p":"A","n":"inj","t":60,"a":40,"b":79},
{"p":"B","n":"inj","t":60,"a":40,"b":87},
{"p":"B","n":"nlx2","t":79.5,"a":64,"b":79},
{"p":"B","n":"nlx1","t":35,"a":124,"b":114}
],
"tx": [
{"p":"A","k":"letter","t":-7,"v":194.5,"txt":"A"},
{"p":"B","k":"letter","t":-12,"v":195.3,"txt":"B"},
{"p":"A","k":"small","t":62,"v":34.5,"txt":"injection"},
{"p":"B","k":"small","t":61.4,"v":36,"txt":"injection"},
{"p":"B","k":"small","t":101,"v":123.7,"txt":"###"},
{"p":"B","k":"label","t":34,"v":127.7,"txt":"1ˢᵗ NLX"},
{"p":"B","k":"red","t":82,"v":59.4,"txt":"2ⁿᵈ NLX"},
{"p":"A","k":"stars","t":76,"v":137,"txt":"****"},
{"p":"A","k":"stars","t":84,"v":151,"txt":"****"},
{"p":"A","k":"stars","t":89,"v":141,"txt":"****"},
{"p":"A","k":"stars","t":97,"v":148,"txt":"****"},
{"p":"A","k":"stars","t":101,"v":135,"txt":"****"},
{"p":"A","k":"stars","t":107,"v":151,"txt":"****"},
{"p":"A","k":"stars","t":113,"v":142,"txt":"****"},
{"p":"A","k":"stars","t":118,"v":131,"txt":"****"},
{"p":"A","k":"stars","t":123,"v":143,"txt":"****"},
{"p":"A","k":"stars","t":129,"v":138,"txt":"****"},
{"p":"A","k":"stars","t":136,"v":144,"txt":"****"},
{"p":"A","k":"stars","t":141,"v":137,"txt":"****"},
{"p":"B","k":"stars","t":76.5,"v":139,"txt":"****"},
{"p":"B","k":"stars","t":82.7,"v":157,"txt":"****"},
{"p":"B","k":"stars","t":89.7,"v":138,"txt":"****"},
{"p":"B","k":"stars","t":96,"v":156,"txt":"****"},
{"p":"B","k":"stars","t":101,"v":144,"txt":"****"},
{"p":"B","k":"stars","t":111.6,"v":146,"txt":"****"},
{"p":"B","k":"stars","t":115,"v":139,"txt":"****"},
{"p":"B","k":"stars","t":121,"v":150,"txt":"****"},
{"p":"B","k":"stars","t":124.6,"v":123,"txt":"****"}
],
"hl": [{"p":"B","t":87,"t2":121,"v":127.2}],
"cd": [
{"s":"FENT","d":0.1,"v":122.5,"lo":111},
{"s":"FENT","d":1,"v":103,"lo":94.3},
{"s":"FENT","d":6,"v":116,"lo":113},
{"s":"OCF","d":0.1,"v":100.8,"lo":98},
{"s":"OCF","d":1,"v":98.3,"lo":95},
{"s":"OCF","d":6,"v":131,"lo":127},
{"s":"FUF","d":0.1,"v":95,"lo":90.6},
{"s":"FUF","d":1,"v":86,"lo":84.8},
{"s":"FUF","d":6,"v":94.3,"lo":92}
],
"ctx": [
{"d":0.1,"v":127,"txt":"$$$"},{"d":0.1,"v":125,"txt":"°°°"},{"d":0.1,"v":109.2,"txt":"°°°"},{"d":0.1,"v":107,"txt":"$$$"},
{"d":1,"v":106.3,"txt":"$$$"},{"d":1,"v":91.7,"txt":"$$"},
{"d":6,"v":125,"txt":"$$$"},{"d":6,"v":120.3,"txt":"$$$"},{"d":6,"v":118.4,"txt":"°°°"},{"d":6,"v":111,"txt":"°°°"},{"d":6,"v":108.9,"txt":"$$$"}
],
"bars": [
{"g":"saline","c":"saline","k":"saline S","v":101,"hi":102.2},
{"g":"saline","c":"NLX","k":"saline N","v":98.8,"hi":100},
{"g":"FENT","c":"saline","k":"FENT S","v":124,"hi":128},
{"g":"FENT","c":"NLX","k":"FENT N","v":99,"hi":100.5},
{"g":"ACRYLF","c":"saline","k":"ACRYLF S","v":125.5,"hi":127.8},
{"g":"ACRYLF","c":"NLX","k":"ACRYLF N","v":109.5,"hi":110.8},
{"g":"OCF","c":"saline","k":"OCF S","v":120.5,"hi":124},
{"g":"OCF","c":"NLX","k":"OCF N","v":113,"hi":115.5},
{"g":"FUF","c":"saline","k":"FUF S","v":99.5,"hi":101},
{"g":"FUF","c":"NLX","k":"FUF N","v":101.5,"hi":102.8}
],
"dots": [
{"g":"saline","k":"saline S","r":"s2","v":100.5},{"g":"saline","k":"saline S","r":"s3","v":101},{"g":"saline","k":"saline S","r":"s4","v":102.5},{"g":"saline","k":"saline S","r":"s5","v":101.5},{"g":"saline","k":"saline S","r":"s6","v":99.5},{"g":"saline","k":"saline S","r":"s7","v":99},
{"g":"saline","k":"saline N","r":"n1","v":100},{"g":"saline","k":"saline N","r":"n2","v":101},{"g":"saline","k":"saline N","r":"n4","v":102},{"g":"saline","k":"saline N","r":"n5","v":99},{"g":"saline","k":"saline N","r":"n6","v":98.5},{"g":"saline","k":"saline N","r":"n7","v":100},
{"g":"FENT","k":"FENT S","r":"s1","v":120},{"g":"FENT","k":"FENT S","r":"s2","v":121},{"g":"FENT","k":"FENT S","r":"s3","v":130},{"g":"FENT","k":"FENT S","r":"s4","v":140},{"g":"FENT","k":"FENT S","r":"s5","v":118},{"g":"FENT","k":"FENT S","r":"s6","v":114},
{"g":"FENT","k":"FENT N","r":"n1","v":101},{"g":"FENT","k":"FENT N","r":"n2","v":102},{"g":"FENT","k":"FENT N","r":"n3","v":99},{"g":"FENT","k":"FENT N","r":"n4","v":102.5},{"g":"FENT","k":"FENT N","r":"n5","v":98},{"g":"FENT","k":"FENT N","r":"n6","v":97},{"g":"FENT","k":"FENT N","r":"n7","v":99.5},
{"g":"ACRYLF","k":"ACRYLF S","r":"s1","v":127},{"g":"ACRYLF","k":"ACRYLF S","r":"s2","v":128},{"g":"ACRYLF","k":"ACRYLF S","r":"s3","v":126},{"g":"ACRYLF","k":"ACRYLF S","r":"s4","v":140},{"g":"ACRYLF","k":"ACRYLF S","r":"s5","v":124},{"g":"ACRYLF","k":"ACRYLF S","r":"s6","v":120},{"g":"ACRYLF","k":"ACRYLF S","r":"s7","v":118},
{"g":"ACRYLF","k":"ACRYLF N","r":"n1","v":110},{"g":"ACRYLF","k":"ACRYLF N","r":"n2","v":111},{"g":"ACRYLF","k":"ACRYLF N","r":"n3","v":109},{"g":"ACRYLF","k":"ACRYLF N","r":"n4","v":110},{"g":"ACRYLF","k":"ACRYLF N","r":"n5","v":112},{"g":"ACRYLF","k":"ACRYLF N","r":"n6","v":109},{"g":"ACRYLF","k":"ACRYLF N","r":"n7","v":110.5},
{"g":"OCF","k":"OCF S","r":"s1","v":121},{"g":"OCF","k":"OCF S","r":"s2","v":120},{"g":"OCF","k":"OCF S","r":"s3","v":114},{"g":"OCF","k":"OCF S","r":"s4","v":137},{"g":"OCF","k":"OCF S","r":"s5","v":118},{"g":"OCF","k":"OCF S","r":"s6","v":110},{"g":"OCF","k":"OCF S","r":"s7","v":121},
{"g":"OCF","k":"OCF N","r":"n1","v":114},{"g":"OCF","k":"OCF N","r":"n2","v":116},{"g":"OCF","k":"OCF N","r":"n3","v":115},{"g":"OCF","k":"OCF N","r":"n4","v":113},{"g":"OCF","k":"OCF N","r":"n5","v":110},{"g":"OCF","k":"OCF N","r":"n6","v":108},{"g":"OCF","k":"OCF N","r":"n7","v":119},
{"g":"FUF","k":"FUF S","r":"s1","v":102},{"g":"FUF","k":"FUF S","r":"s3","v":101},{"g":"FUF","k":"FUF S","r":"s4","v":100},{"g":"FUF","k":"FUF S","r":"s5","v":99},{"g":"FUF","k":"FUF S","r":"s6","v":97},
{"g":"FUF","k":"FUF N","r":"n2","v":103},{"g":"FUF","k":"FUF N","r":"n3","v":102},{"g":"FUF","k":"FUF N","r":"n4","v":101},{"g":"FUF","k":"FUF N","r":"n5","v":104},{"g":"FUF","k":"FUF N","r":"n6","v":100}
],
"dtx": [
{"g":"FENT","c":"saline","v":149,"txt":"&&&"},{"g":"FENT","c":"saline","v":143.6,"txt":"***"},{"g":"FENT","c":"NLX","v":110,"txt":"ΔΔΔ"},
{"g":"ACRYLF","c":"saline","v":150,"txt":"&&"},{"g":"ACRYLF","c":"saline","v":144.5,"txt":"**"},
{"g":"ACRYLF","c":"NLX","v":129.4,"txt":"§"},{"g":"ACRYLF","c":"NLX","v":121.6,"txt":"&&&"},{"g":"ACRYLF","c":"NLX","v":116.7,"txt":"***"},
{"g":"OCF","c":"saline","v":148.5,"txt":"&&&"},{"g":"OCF","c":"saline","v":143,"txt":"***"},
{"g":"OCF","c":"NLX","v":130.8,"txt":"&&"},{"g":"OCF","c":"NLX","v":125,"txt":"**"}
]
},
"columns": 2,
"spacing": {"row": 109, "column": 215},
"bounds": "flush",
"resolve": {
 "scale": {"x": "independent", "y": "independent", "fill": "independent", "shape": "independent", "color": "independent", "stroke": "independent"},
 "legend": {"fill": "independent", "shape": "independent", "color": "independent", "stroke": "independent"}
},
"concat": [
{
 "width": 299, "height": 199,
 "title": {"text": "FENTANYL", "fontSize": 15, "font": "Liberation Sans", "fontWeight": "bold", "offset": 6, "anchor": "middle", "dx": -3},
 "layer": [
  {"data": {"name": "ts"}, "transform": [{"filter": "datum.p == 'A' && isValid(datum.lo)"}],
   "mark": {"type": "rule", "color": "#666", "strokeWidth": 0.8},
   "encoding": {
    "x": {"field": "t", "type": "quantitative", "scale": {"domain": [0, 360], "nice": false, "zero": false}, "axis": {"values": [30,60,90,120,150,180,210,240,270,300,330,360], "tickCount": 30, "labelExpr": "datum.value % 60 == 0 ? datum.label : ''", "labelOverlap": false, "labelFont": "Liberation Serif", "labelFontSize": 14, "tickSize": 4, "title": "Time (min)", "titleFontSize": 14, "titlePadding": 2}},
    "y": {"field": "v", "type": "quantitative", "scale": {"domain": [20, 180], "nice": false, "zero": false}, "axis": {"values": [20,30,40,50,60,70,80,90,100,110,120,130,140,150,160,170,180], "tickCount": 30, "labelExpr": "datum.value % 20 == 0 ? datum.label : ''", "labelOverlap": false, "labelFont": "Liberation Serif", "labelFontSize": 14, "tickSize": 4, "title": "Pulse distention (%)", "titleFontSize": 14}},
    "y2": {"field": "lo"}}},
  {"data": {"name": "ts"}, "transform": [{"filter": "datum.p == 'A' && isValid(datum.lo)"}],
   "mark": {"type": "tick", "orient": "horizontal", "color": "#666", "size": 4, "thickness": 0.8},
   "encoding": {"x": {"field": "t", "type": "quantitative"}, "y": {"field": "lo", "type": "quantitative", "title": "Pulse distention (%)"}}},
  {"data": {"name": "ts"}, "transform": [{"filter": "datum.p == 'A'"}],
   "mark": {"type": "line", "color": "#555", "strokeWidth": 0.7},
   "encoding": {"x": {"field": "t", "type": "quantitative"}, "y": {"field": "v", "type": "quantitative", "title": "Pulse distention (%)"}, "detail": {"field": "s"}}},
  {"data": {"name": "ts"}, "transform": [{"filter": "datum.p == 'A'"}],
   "mark": {"type": "point", "filled": true, "strokeWidth": 0.6, "size": 26, "opacity": 1},
   "encoding": {"x": {"field": "t", "type": "quantitative"}, "y": {"field": "v", "type": "quantitative", "title": "Pulse distention (%)"},
    "fill": {"field": "s", "type": "nominal", "scale": {"domain": ["saline", "0.1 mg/kg", "1 mg/kg", "6 mg/kg"], "range": ["#ffffff", "#1B8FB0", "#F2D513", "#F21818"]},
      "legend": {"orient": "none", "legendX": 64, "legendY": -33, "columns": 2, "title": null, "labelFontSize": 15, "symbolSize": 45, "rowPadding": 1, "columnPadding": 10, "symbolStrokeWidth": 0.8}},
    "stroke": {"field": "s", "type": "nominal", "scale": {"domain": ["saline", "0.1 mg/kg", "1 mg/kg", "6 mg/kg"], "range": ["#222222", "#222222", "#222222", "#F21818"]},
      "legend": {"orient": "none", "legendX": 64, "legendY": -33, "columns": 2, "title": null, "labelFontSize": 15, "symbolSize": 45, "rowPadding": 1, "columnPadding": 10, "symbolStrokeWidth": 0.8}},
    "shape": {"field": "s", "type": "nominal", "scale": {"domain": ["saline", "0.1 mg/kg", "1 mg/kg", "6 mg/kg"], "range": ["circle", "triangle-down", "diamond", "triangle-up"]},
      "legend": {"orient": "none", "legendX": 64, "legendY": -33, "columns": 2, "title": null, "labelFontSize": 15, "symbolSize": 45, "rowPadding": 1, "columnPadding": 10, "symbolStrokeWidth": 0.8}}}},
  {"data": {"name": "arr"}, "transform": [{"filter": "datum.p == 'A'"}],
   "mark": {"type": "rule", "color": "#000", "strokeWidth": 1},
   "encoding": {"x": {"field": "t", "type": "quantitative"}, "y": {"field": "a", "type": "quantitative", "title": "Pulse distention (%)"}, "y2": {"field": "b"}}},
  {"data": {"name": "arr"}, "transform": [{"filter": "datum.p == 'A'"}],
   "mark": {"type": "point", "shape": "triangle-up", "filled": true, "color": "#000", "size": 70, "opacity": 1},
   "encoding": {"x": {"field": "t", "type": "quantitative"}, "y": {"field": "b", "type": "quantitative", "title": "Pulse distention (%)"}}},
  {"data": {"name": "tx"}, "transform": [{"filter": "datum.p == 'A' && datum.k == 'letter'"}],
   "mark": {"type": "text", "fontSize": 17, "fontWeight": "bold", "color": "#000"},
   "encoding": {"x": {"field": "t", "type": "quantitative"}, "y": {"field": "v", "type": "quantitative", "title": "Pulse distention (%)"}, "text": {"field": "txt"}}},
  {"data": {"name": "tx"}, "transform": [{"filter": "datum.p == 'A' && datum.k == 'small'"}],
   "mark": {"type": "text", "fontSize": 6.5, "fontWeight": "bold", "color": "#000"},
   "encoding": {"x": {"field": "t", "type": "quantitative"}, "y": {"field": "v", "type": "quantitative", "title": "Pulse distention (%)"}, "text": {"field": "txt"}}},
  {"data": {"name": "tx"}, "transform": [{"filter": "datum.p == 'A' && datum.k == 'stars'"}],
   "mark": {"type": "text", "fontSize": 6.5, "fontWeight": "bold", "color": "#333", "angle": 90},
   "encoding": {"x": {"field": "t", "type": "quantitative"}, "y": {"field": "v", "type": "quantitative", "title": "Pulse distention (%)"}, "text": {"field": "txt"}}}
 ]
},
{
 "width": 299, "height": 199,
 "title": {"text": "FENTANYL + NALOXONE", "fontSize": 15, "font": "Liberation Sans", "fontWeight": "bold", "offset": 6, "anchor": "middle", "dx": 10},
 "layer": [
  {"data": {"name": "ts"}, "transform": [{"filter": "datum.p == 'B' && isValid(datum.lo)"}],
   "mark": {"type": "rule", "strokeWidth": 0.8},
   "encoding": {
    "x": {"field": "t", "type": "quantitative", "scale": {"domain": [0, 360], "nice": false, "zero": false}, "axis": {"values": [30,60,90,120,150,180,210,240,270,300,330,360], "tickCount": 30, "labelExpr": "datum.value % 60 == 0 ? datum.label : ''", "labelOverlap": false, "labelFont": "Liberation Serif", "labelFontSize": 14, "tickSize": 4, "title": "Time (min)", "titleFontSize": 14, "titlePadding": 2}},
    "y": {"field": "v", "type": "quantitative", "scale": {"domain": [20, 180], "nice": false, "zero": false}, "axis": {"values": [20,30,40,50,60,70,80,90,100,110,120,130,140,150,160,170,180], "tickCount": 30, "labelExpr": "datum.value % 20 == 0 ? datum.label : ''", "labelOverlap": false, "labelFont": "Liberation Serif", "labelFontSize": 14, "tickSize": 4}, "title": null},
    "y2": {"field": "lo"},
    "color": {"condition": {"test": "datum.s == 'FENT 6 mg/kg'", "value": "#F25555"}, "value": "#777"}}},
  {"data": {"name": "ts"}, "transform": [{"filter": "datum.p == 'B' && isValid(datum.lo)"}],
   "mark": {"type": "tick", "orient": "horizontal", "size": 4, "thickness": 0.8},
   "encoding": {"x": {"field": "t", "type": "quantitative"}, "y": {"field": "lo", "type": "quantitative", "title": null},
    "color": {"condition": {"test": "datum.s == 'FENT 6 mg/kg'", "value": "#F25555"}, "value": "#777"}}},
  {"data": {"name": "ts"}, "transform": [{"filter": "datum.p == 'B'"}],
   "mark": {"type": "line", "strokeWidth": 0.8},
   "encoding": {"x": {"field": "t", "type": "quantitative"}, "y": {"field": "v", "type": "quantitative", "title": null}, "detail": {"field": "s"},
    "color": {"condition": {"test": "datum.s == 'FENT 6 mg/kg'", "value": "#F21818"}, "value": "#555"}}},
  {"data": {"name": "hl"},
   "mark": {"type": "rule", "color": "#000", "strokeWidth": 0.8},
   "encoding": {"x": {"field": "t", "type": "quantitative"}, "x2": {"field": "t2"}, "y": {"field": "v", "type": "quantitative", "title": null}}},
  {"data": {"name": "ts"}, "transform": [{"filter": "datum.p == 'B'"}],
   "mark": {"type": "point", "filled": true, "strokeWidth": 0.6, "size": 26, "opacity": 1},
   "encoding": {"x": {"field": "t", "type": "quantitative"}, "y": {"field": "v", "type": "quantitative", "title": null},
    "stroke": {"field": "s", "type": "nominal", "scale": {"domain": ["saline", "FENT 6 mg/kg", "NLX 6 mg/kg", "FENT 6 mg/kg+NLX 6 mg/kg"], "range": ["#222222", "#F21818", "#222222", "#222222"]},
      "legend": {"orient": "none", "legendX": 108, "legendY": -36, "title": null, "labelFontSize": 15, "symbolSize": 45, "rowPadding": 0, "symbolStrokeWidth": 0.8}},
    "fill": {"field": "s", "type": "nominal", "scale": {"domain": ["saline", "FENT 6 mg/kg", "NLX 6 mg/kg", "FENT 6 mg/kg+NLX 6 mg/kg"], "range": ["#ffffff", "#F21818", "#22A822", "#EE7420"]},
      "legend": {"orient": "none", "legendX": 108, "legendY": -36, "title": null, "labelFontSize": 15, "symbolSize": 45, "rowPadding": 0, "symbolStrokeWidth": 0.8}},
    "shape": {"field": "s", "type": "nominal", "scale": {"domain": ["saline", "FENT 6 mg/kg", "NLX 6 mg/kg", "FENT 6 mg/kg+NLX 6 mg/kg"], "range": ["circle", "triangle-up", "circle", "diamond"]},
      "legend": {"orient": "none", "legendX": 108, "legendY": -36, "title": null, "labelFontSize": 15, "symbolSize": 45, "rowPadding": 0, "symbolStrokeWidth": 0.8}}}},
  {"data": {"name": "arr"}, "transform": [{"filter": "datum.p == 'B'"}],
   "mark": {"type": "rule", "strokeWidth": 1.2},
   "encoding": {"x": {"field": "t", "type": "quantitative"}, "y": {"field": "a", "type": "quantitative", "title": null}, "y2": {"field": "b"},
    "color": {"condition": {"test": "datum.n == 'nlx2'", "value": "#F21818"}, "value": "#000"}}},
  {"data": {"name": "arr"}, "transform": [{"filter": "datum.p == 'B'"}],
   "mark": {"type": "point", "filled": true, "size": 70, "opacity": 1},
   "encoding": {"x": {"field": "t", "type": "quantitative"}, "y": {"field": "b", "type": "quantitative", "title": null},
    "shape": {"condition": {"test": "datum.n == 'nlx1'", "value": "triangle-down"}, "value": "triangle-up"},
    "color": {"condition": {"test": "datum.n == 'nlx2'", "value": "#F21818"}, "value": "#000"}}},
  {"data": {"name": "tx"}, "transform": [{"filter": "datum.p == 'B' && datum.k == 'letter'"}],
   "mark": {"type": "text", "fontSize": 17, "fontWeight": "bold", "color": "#000"},
   "encoding": {"x": {"field": "t", "type": "quantitative"}, "y": {"field": "v", "type": "quantitative", "title": null}, "text": {"field": "txt"}}},
  {"data": {"name": "tx"}, "transform": [{"filter": "datum.p == 'B' && datum.k == 'small'"}],
   "mark": {"type": "text", "fontSize": 6.5, "fontWeight": "bold", "color": "#000"},
   "encoding": {"x": {"field": "t", "type": "quantitative"}, "y": {"field": "v", "type": "quantitative", "title": null}, "text": {"field": "txt"}}},
  {"data": {"name": "tx"}, "transform": [{"filter": "datum.p == 'B' && (datum.k == 'label' || datum.k == 'red')"}],
   "mark": {"type": "text", "fontSize": 9, "fontWeight": "bold"},
   "encoding": {"x": {"field": "t", "type": "quantitative"}, "y": {"field": "v", "type": "quantitative", "title": null}, "text": {"field": "txt"},
    "color": {"condition": {"test": "datum.k == 'red'", "value": "#F21818"}, "value": "#000"}}},
  {"data": {"name": "tx"}, "transform": [{"filter": "datum.p == 'B' && datum.k == 'stars'"}],
   "mark": {"type": "text", "fontSize": 6.5, "fontWeight": "bold", "color": "#333", "angle": 90},
   "encoding": {"x": {"field": "t", "type": "quantitative"}, "y": {"field": "v", "type": "quantitative", "title": null}, "text": {"field": "txt"}}}
 ]
},
{
 "width": 299, "height": 189,
 "data": {"name": "cd"},
 "layer": [
  {"mark": {"type": "rule", "strokeWidth": 1.5},
   "encoding": {
    "x": {"field": "d", "type": "quantitative", "scale": {"type": "log", "domain": [0.085, 6], "nice": false}, "axis": {"values": [0.1, 1, 6], "tickCount": 10, "format": "~g", "labelOverlap": false, "labelFontSize": 15, "tickSize": 5, "offset": 10, "title": "Dose (mg/kg.i.p)", "titleFontSize": 15, "titlePadding": 4}},
    "y": {"field": "v", "type": "quantitative", "scale": {"domain": [80, 140], "nice": false, "zero": false}, "axis": {"values": [80, 90, 100, 110, 120, 130, 140], "tickCount": 10, "labelExpr": "datum.value % 20 == 0 ? datum.label : ''", "labelOverlap": false, "labelFontSize": 15, "tickSize": 5, "title": ["Pulse distention", "Mean effect (%)"], "titleFontSize": 15, "titleLineHeight": 18, "titlePadding": 0}},
    "y2": {"field": "lo"},
    "color": {"field": "s", "type": "nominal", "scale": {"domain": ["FENT", "ACRYLF", "OCF", "FUF"], "range": ["#F21A1A", "#F5821F", "#7B2590", "#1515C8"]}}}},
  {"mark": {"type": "tick", "orient": "horizontal", "size": 9, "thickness": 1.5},
   "encoding": {"x": {"field": "d", "type": "quantitative"}, "y": {"field": "lo", "type": "quantitative", "title": ["Pulse distention", "Mean effect (%)"]},
    "color": {"field": "s", "type": "nominal"}}},
  {"mark": {"type": "line", "strokeWidth": 1.2},
   "encoding": {"x": {"field": "d", "type": "quantitative"}, "y": {"field": "v", "type": "quantitative", "title": ["Pulse distention", "Mean effect (%)"]},
    "color": {"field": "s", "type": "nominal"}}},
  {"mark": {"type": "point", "filled": true, "size": 110, "opacity": 1},
   "encoding": {"x": {"field": "d", "type": "quantitative"}, "y": {"field": "v", "type": "quantitative", "title": ["Pulse distention", "Mean effect (%)"]},
    "color": {"field": "s", "type": "nominal", "legend": {"orient": "none", "legendX": 74, "legendY": -42, "columns": 2, "title": null, "labelFontSize": 17, "symbolSize": 110, "rowPadding": 1, "columnPadding": 6, "symbolOpacity": 1}},
    "shape": {"field": "s", "type": "nominal", "scale": {"domain": ["FENT", "ACRYLF", "OCF", "FUF"], "range": ["triangle-up", "diamond", "square", "circle"]}, "legend": {"orient": "none", "legendX": 74, "legendY": -42, "columns": 2, "title": null, "labelFontSize": 17, "symbolSize": 110, "rowPadding": 1, "columnPadding": 6, "symbolOpacity": 1}}}},
  {"data": {"name": "ctx"},
   "mark": {"type": "text", "fontSize": 8, "fontWeight": "bold", "color": "#222"},
   "encoding": {"x": {"field": "d", "type": "quantitative"}, "y": {"field": "v", "type": "quantitative", "title": ["Pulse distention", "Mean effect (%)"]}, "text": {"field": "txt"}}},
  {"data": {"values": [{"d": 0.0706, "v": 146.3, "txt": "C"}]},
   "mark": {"type": "text", "fontSize": 17, "fontWeight": "bold", "color": "#000"},
   "encoding": {"x": {"field": "d", "type": "quantitative"}, "y": {"field": "v", "type": "quantitative", "title": ["Pulse distention", "Mean effect (%)"]}, "text": {"field": "txt"}}}
 ]
},
{
 "width": 299, "height": 198,
 "layer": [
  {"data": {"name": "bars"},
   "mark": {"type": "point", "filled": false, "stroke": "#000", "strokeWidth": 1.5, "size": 30, "opacity": 1},
   "encoding": {
    "x": {"field": "g", "type": "nominal", "scale": {"type": "band", "domain": ["saline", "FENT", "ACRYLF", "OCF", "FUF"], "paddingInner": 0.36, "paddingOuter": 0.185},
      "axis": {"labelAngle": -45, "ticks": false, "title": null, "labelFontSize": 13, "labelPadding": 5, "labelOverlap": false, "labelFontStyle": {"condition": {"test": "datum.value != 'saline'", "value": "italic"}, "value": "normal"}}},
    "xOffset": {"field": "c", "type": "nominal", "scale": {"domain": ["saline", "NLX"]}},
    "y": {"datum": 8, "type": "quantitative", "scale": {"domain": [0, 140], "nice": false}, "axis": {"values": [0, 20, 40, 60, 80, 100, 120, 140], "tickCount": 10, "labelOverlap": false, "labelFontSize": 14, "tickSize": 5, "title": "D", "titleAngle": 0, "titleAlign": "right", "titleBaseline": "bottom", "titleX": -2, "titleY": -12, "titleFontSize": 17}},
    "shape": {"field": "c", "type": "nominal", "scale": {"domain": ["saline", "NLX"], "range": ["square", "M-1,-1H1V1H-1Z M-1,-1L1,1"]},
      "legend": {"orient": "none", "legendX": 90, "legendY": -56, "title": null, "labelFontSize": 17, "symbolSize": 150, "symbolStrokeWidth": 1.5, "symbolStrokeColor": "#000", "rowPadding": 1}}}},
  {"data": {"name": "bars"}, "transform": [{"filter": "datum.c == 'saline'"}],
   "mark": {"type": "bar", "stroke": "#000", "strokeWidth": 1.3},
   "encoding": {"x": {"field": "g", "type": "nominal"}, "xOffset": {"field": "c", "type": "nominal", "scale": {"domain": ["saline", "NLX"], "paddingInner": 0.04}},
    "y": {"field": "v", "type": "quantitative", "title": "D"},
    "fill": {"field": "k", "type": "nominal", "legend": null, "scale": {"domain": ["saline S", "FENT S", "ACRYLF S", "OCF S", "FUF S"], "range": ["#ffffff", "#F9A6A3", "#FFC77E", "#E48BE4", "#86B8F0"]}}}},
  {"data": {"name": "bars"}, "transform": [{"filter": "datum.k == 'saline N'"}],
   "mark": {"type": "bar", "stroke": "#000", "strokeWidth": 1.3, "fill": {"gradient": "linear", "x1": 0, "y1": 1, "x2": 0.14, "y2": -0.11, "stops": [{"offset":0,"color":"#fff"},{"offset":0.0125,"color":"#444"},{"offset":0.025,"color":"#fff"},{"offset":0.0375,"color":"#444"},{"offset":0.05,"color":"#fff"},{"offset":0.0625,"color":"#444"},{"offset":0.075,"color":"#fff"},{"offset":0.0875,"color":"#444"},{"offset":0.1,"color":"#fff"},{"offset":0.1125,"color":"#444"},{"offset":0.125,"color":"#fff"},{"offset":0.1375,"color":"#444"},{"offset":0.15,"color":"#fff"},{"offset":0.1625,"color":"#444"},{"offset":0.175,"color":"#fff"},{"offset":0.1875,"color":"#444"},{"offset":0.2,"color":"#fff"},{"offset":0.2125,"color":"#444"},{"offset":0.225,"color":"#fff"},{"offset":0.2375,"color":"#444"},{"offset":0.25,"color":"#fff"},{"offset":0.2625,"color":"#444"},{"offset":0.275,"color":"#fff"},{"offset":0.2875,"color":"#444"},{"offset":0.3,"color":"#fff"},{"offset":0.3125,"color":"#444"},{"offset":0.325,"color":"#fff"},{"offset":0.3375,"color":"#444"},{"offset":0.35,"color":"#fff"},{"offset":0.3625,"color":"#444"},{"offset":0.375,"color":"#fff"},{"offset":0.3875,"color":"#444"},{"offset":0.4,"color":"#fff"},{"offset":0.4125,"color":"#444"},{"offset":0.425,"color":"#fff"},{"offset":0.4375,"color":"#444"},{"offset":0.45,"color":"#fff"},{"offset":0.4625,"color":"#444"},{"offset":0.475,"color":"#fff"},{"offset":0.4875,"color":"#444"},{"offset":0.5,"color":"#fff"},{"offset":0.5125,"color":"#444"},{"offset":0.525,"color":"#fff"},{"offset":0.5375,"color":"#444"},{"offset":0.55,"color":"#fff"},{"offset":0.5625,"color":"#444"},{"offset":0.575,"color":"#fff"},{"offset":0.5875,"color":"#444"},{"offset":0.6,"color":"#fff"},{"offset":0.6125,"color":"#444"},{"offset":0.625,"color":"#fff"},{"offset":0.6375,"color":"#444"},{"offset":0.65,"color":"#fff"},{"offset":0.6625,"color":"#444"},{"offset":0.675,"color":"#fff"},{"offset":0.6875,"color":"#444"},{"offset":0.7,"color":"#fff"},{"offset":0.7125,"color":"#444"},{"offset":0.725,"color":"#fff"},{"offset":0.7375,"color":"#444"},{"offset":0.75,"color":"#fff"},{"offset":0.7625,"color":"#444"},{"offset":0.775,"color":"#fff"},{"offset":0.7875,"color":"#444"},{"offset":0.8,"color":"#fff"},{"offset":0.8125,"color":"#444"},{"offset":0.825,"color":"#fff"},{"offset":0.8375,"color":"#444"},{"offset":0.85,"color":"#fff"},{"offset":0.8625,"color":"#444"},{"offset":0.875,"color":"#fff"},{"offset":0.8875,"color":"#444"},{"offset":0.9,"color":"#fff"},{"offset":0.9125,"color":"#444"},{"offset":0.925,"color":"#fff"},{"offset":0.9375,"color":"#444"},{"offset":0.95,"color":"#fff"},{"offset":0.9625,"color":"#444"},{"offset":0.975,"color":"#fff"},{"offset":0.9875,"color":"#444"},{"offset":1,"color":"#fff"}]}},
   "encoding": {"x": {"field": "g", "type": "nominal"}, "xOffset": {"field": "c", "type": "nominal", "scale": {"domain": ["saline", "NLX"], "paddingInner": 0.04}}, "y": {"field": "v", "type": "quantitative", "title": "D"}}},
  {"data": {"name": "bars"}, "transform": [{"filter": "datum.k == 'FENT N'"}],
   "mark": {"type": "bar", "stroke": "#000", "strokeWidth": 1.3, "fill": {"gradient": "linear", "x1": 0, "y1": 1, "x2": 0.14, "y2": -0.11, "stops": [{"offset":0,"color":"#F01A1A"},{"offset":0.0125,"color":"#000"},{"offset":0.025,"color":"#F01A1A"},{"offset":0.0375,"color":"#000"},{"offset":0.05,"color":"#F01A1A"},{"offset":0.0625,"color":"#000"},{"offset":0.075,"color":"#F01A1A"},{"offset":0.0875,"color":"#000"},{"offset":0.1,"color":"#F01A1A"},{"offset":0.1125,"color":"#000"},{"offset":0.125,"color":"#F01A1A"},{"offset":0.1375,"color":"#000"},{"offset":0.15,"color":"#F01A1A"},{"offset":0.1625,"color":"#000"},{"offset":0.175,"color":"#F01A1A"},{"offset":0.1875,"color":"#000"},{"offset":0.2,"color":"#F01A1A"},{"offset":0.2125,"color":"#000"},{"offset":0.225,"color":"#F01A1A"},{"offset":0.2375,"color":"#000"},{"offset":0.25,"color":"#F01A1A"},{"offset":0.2625,"color":"#000"},{"offset":0.275,"color":"#F01A1A"},{"offset":0.2875,"color":"#000"},{"offset":0.3,"color":"#F01A1A"},{"offset":0.3125,"color":"#000"},{"offset":0.325,"color":"#F01A1A"},{"offset":0.3375,"color":"#000"},{"offset":0.35,"color":"#F01A1A"},{"offset":0.3625,"color":"#000"},{"offset":0.375,"color":"#F01A1A"},{"offset":0.3875,"color":"#000"},{"offset":0.4,"color":"#F01A1A"},{"offset":0.4125,"color":"#000"},{"offset":0.425,"color":"#F01A1A"},{"offset":0.4375,"color":"#000"},{"offset":0.45,"color":"#F01A1A"},{"offset":0.4625,"color":"#000"},{"offset":0.475,"color":"#F01A1A"},{"offset":0.4875,"color":"#000"},{"offset":0.5,"color":"#F01A1A"},{"offset":0.5125,"color":"#000"},{"offset":0.525,"color":"#F01A1A"},{"offset":0.5375,"color":"#000"},{"offset":0.55,"color":"#F01A1A"},{"offset":0.5625,"color":"#000"},{"offset":0.575,"color":"#F01A1A"},{"offset":0.5875,"color":"#000"},{"offset":0.6,"color":"#F01A1A"},{"offset":0.6125,"color":"#000"},{"offset":0.625,"color":"#F01A1A"},{"offset":0.6375,"color":"#000"},{"offset":0.65,"color":"#F01A1A"},{"offset":0.6625,"color":"#000"},{"offset":0.675,"color":"#F01A1A"},{"offset":0.6875,"color":"#000"},{"offset":0.7,"color":"#F01A1A"},{"offset":0.7125,"color":"#000"},{"offset":0.725,"color":"#F01A1A"},{"offset":0.7375,"color":"#000"},{"offset":0.75,"color":"#F01A1A"},{"offset":0.7625,"color":"#000"},{"offset":0.775,"color":"#F01A1A"},{"offset":0.7875,"color":"#000"},{"offset":0.8,"color":"#F01A1A"},{"offset":0.8125,"color":"#000"},{"offset":0.825,"color":"#F01A1A"},{"offset":0.8375,"color":"#000"},{"offset":0.85,"color":"#F01A1A"},{"offset":0.8625,"color":"#000"},{"offset":0.875,"color":"#F01A1A"},{"offset":0.8875,"color":"#000"},{"offset":0.9,"color":"#F01A1A"},{"offset":0.9125,"color":"#000"},{"offset":0.925,"color":"#F01A1A"},{"offset":0.9375,"color":"#000"},{"offset":0.95,"color":"#F01A1A"},{"offset":0.9625,"color":"#000"},{"offset":0.975,"color":"#F01A1A"},{"offset":0.9875,"color":"#000"},{"offset":1,"color":"#F01A1A"}]}},
   "encoding": {"x": {"field": "g", "type": "nominal"}, "xOffset": {"field": "c", "type": "nominal", "scale": {"domain": ["saline", "NLX"], "paddingInner": 0.04}}, "y": {"field": "v", "type": "quantitative", "title": "D"}}},
  {"data": {"name": "bars"}, "transform": [{"filter": "datum.k == 'ACRYLF N'"}],
   "mark": {"type": "bar", "stroke": "#000", "strokeWidth": 1.3, "fill": {"gradient": "linear", "x1": 0, "y1": 1, "x2": 0.13, "y2": -0.1, "stops": [{"offset":0,"color":"#F56A18"},{"offset":0.0125,"color":"#000"},{"offset":0.025,"color":"#F56A18"},{"offset":0.0375,"color":"#000"},{"offset":0.05,"color":"#F56A18"},{"offset":0.0625,"color":"#000"},{"offset":0.075,"color":"#F56A18"},{"offset":0.0875,"color":"#000"},{"offset":0.1,"color":"#F56A18"},{"offset":0.1125,"color":"#000"},{"offset":0.125,"color":"#F56A18"},{"offset":0.1375,"color":"#000"},{"offset":0.15,"color":"#F56A18"},{"offset":0.1625,"color":"#000"},{"offset":0.175,"color":"#F56A18"},{"offset":0.1875,"color":"#000"},{"offset":0.2,"color":"#F56A18"},{"offset":0.2125,"color":"#000"},{"offset":0.225,"color":"#F56A18"},{"offset":0.2375,"color":"#000"},{"offset":0.25,"color":"#F56A18"},{"offset":0.2625,"color":"#000"},{"offset":0.275,"color":"#F56A18"},{"offset":0.2875,"color":"#000"},{"offset":0.3,"color":"#F56A18"},{"offset":0.3125,"color":"#000"},{"offset":0.325,"color":"#F56A18"},{"offset":0.3375,"color":"#000"},{"offset":0.35,"color":"#F56A18"},{"offset":0.3625,"color":"#000"},{"offset":0.375,"color":"#F56A18"},{"offset":0.3875,"color":"#000"},{"offset":0.4,"color":"#F56A18"},{"offset":0.4125,"color":"#000"},{"offset":0.425,"color":"#F56A18"},{"offset":0.4375,"color":"#000"},{"offset":0.45,"color":"#F56A18"},{"offset":0.4625,"color":"#000"},{"offset":0.475,"color":"#F56A18"},{"offset":0.4875,"color":"#000"},{"offset":0.5,"color":"#F56A18"},{"offset":0.5125,"color":"#000"},{"offset":0.525,"color":"#F56A18"},{"offset":0.5375,"color":"#000"},{"offset":0.55,"color":"#F56A18"},{"offset":0.5625,"color":"#000"},{"offset":0.575,"color":"#F56A18"},{"offset":0.5875,"color":"#000"},{"offset":0.6,"color":"#F56A18"},{"offset":0.6125,"color":"#000"},{"offset":0.625,"color":"#F56A18"},{"offset":0.6375,"color":"#000"},{"offset":0.65,"color":"#F56A18"},{"offset":0.6625,"color":"#000"},{"offset":0.675,"color":"#F56A18"},{"offset":0.6875,"color":"#000"},{"offset":0.7,"color":"#F56A18"},{"offset":0.7125,"color":"#000"},{"offset":0.725,"color":"#F56A18"},{"offset":0.7375,"color":"#000"},{"offset":0.75,"color":"#F56A18"},{"offset":0.7625,"color":"#000"},{"offset":0.775,"color":"#F56A18"},{"offset":0.7875,"color":"#000"},{"offset":0.8,"color":"#F56A18"},{"offset":0.8125,"color":"#000"},{"offset":0.825,"color":"#F56A18"},{"offset":0.8375,"color":"#000"},{"offset":0.85,"color":"#F56A18"},{"offset":0.8625,"color":"#000"},{"offset":0.875,"color":"#F56A18"},{"offset":0.8875,"color":"#000"},{"offset":0.9,"color":"#F56A18"},{"offset":0.9125,"color":"#000"},{"offset":0.925,"color":"#F56A18"},{"offset":0.9375,"color":"#000"},{"offset":0.95,"color":"#F56A18"},{"offset":0.9625,"color":"#000"},{"offset":0.975,"color":"#F56A18"},{"offset":0.9875,"color":"#000"},{"offset":1,"color":"#F56A18"}]}},
   "encoding": {"x": {"field": "g", "type": "nominal"}, "xOffset": {"field": "c", "type": "nominal", "scale": {"domain": ["saline", "NLX"], "paddingInner": 0.04}}, "y": {"field": "v", "type": "quantitative", "title": "D"}}},
  {"data": {"name": "bars"}, "transform": [{"filter": "datum.k == 'OCF N'"}],
   "mark": {"type": "bar", "stroke": "#000", "strokeWidth": 1.3, "fill": {"gradient": "linear", "x1": 0, "y1": 1, "x2": 0.13, "y2": -0.1, "stops": [{"offset":0,"color":"#A52AB8"},{"offset":0.0125,"color":"#000"},{"offset":0.025,"color":"#A52AB8"},{"offset":0.0375,"color":"#000"},{"offset":0.05,"color":"#A52AB8"},{"offset":0.0625,"color":"#000"},{"offset":0.075,"color":"#A52AB8"},{"offset":0.0875,"color":"#000"},{"offset":0.1,"color":"#A52AB8"},{"offset":0.1125,"color":"#000"},{"offset":0.125,"color":"#A52AB8"},{"offset":0.1375,"color":"#000"},{"offset":0.15,"color":"#A52AB8"},{"offset":0.1625,"color":"#000"},{"offset":0.175,"color":"#A52AB8"},{"offset":0.1875,"color":"#000"},{"offset":0.2,"color":"#A52AB8"},{"offset":0.2125,"color":"#000"},{"offset":0.225,"color":"#A52AB8"},{"offset":0.2375,"color":"#000"},{"offset":0.25,"color":"#A52AB8"},{"offset":0.2625,"color":"#000"},{"offset":0.275,"color":"#A52AB8"},{"offset":0.2875,"color":"#000"},{"offset":0.3,"color":"#A52AB8"},{"offset":0.3125,"color":"#000"},{"offset":0.325,"color":"#A52AB8"},{"offset":0.3375,"color":"#000"},{"offset":0.35,"color":"#A52AB8"},{"offset":0.3625,"color":"#000"},{"offset":0.375,"color":"#A52AB8"},{"offset":0.3875,"color":"#000"},{"offset":0.4,"color":"#A52AB8"},{"offset":0.4125,"color":"#000"},{"offset":0.425,"color":"#A52AB8"},{"offset":0.4375,"color":"#000"},{"offset":0.45,"color":"#A52AB8"},{"offset":0.4625,"color":"#000"},{"offset":0.475,"color":"#A52AB8"},{"offset":0.4875,"color":"#000"},{"offset":0.5,"color":"#A52AB8"},{"offset":0.5125,"color":"#000"},{"offset":0.525,"color":"#A52AB8"},{"offset":0.5375,"color":"#000"},{"offset":0.55,"color":"#A52AB8"},{"offset":0.5625,"color":"#000"},{"offset":0.575,"color":"#A52AB8"},{"offset":0.5875,"color":"#000"},{"offset":0.6,"color":"#A52AB8"},{"offset":0.6125,"color":"#000"},{"offset":0.625,"color":"#A52AB8"},{"offset":0.6375,"color":"#000"},{"offset":0.65,"color":"#A52AB8"},{"offset":0.6625,"color":"#000"},{"offset":0.675,"color":"#A52AB8"},{"offset":0.6875,"color":"#000"},{"offset":0.7,"color":"#A52AB8"},{"offset":0.7125,"color":"#000"},{"offset":0.725,"color":"#A52AB8"},{"offset":0.7375,"color":"#000"},{"offset":0.75,"color":"#A52AB8"},{"offset":0.7625,"color":"#000"},{"offset":0.775,"color":"#A52AB8"},{"offset":0.7875,"color":"#000"},{"offset":0.8,"color":"#A52AB8"},{"offset":0.8125,"color":"#000"},{"offset":0.825,"color":"#A52AB8"},{"offset":0.8375,"color":"#000"},{"offset":0.85,"color":"#A52AB8"},{"offset":0.8625,"color":"#000"},{"offset":0.875,"color":"#A52AB8"},{"offset":0.8875,"color":"#000"},{"offset":0.9,"color":"#A52AB8"},{"offset":0.9125,"color":"#000"},{"offset":0.925,"color":"#A52AB8"},{"offset":0.9375,"color":"#000"},{"offset":0.95,"color":"#A52AB8"},{"offset":0.9625,"color":"#000"},{"offset":0.975,"color":"#A52AB8"},{"offset":0.9875,"color":"#000"},{"offset":1,"color":"#A52AB8"}]}},
   "encoding": {"x": {"field": "g", "type": "nominal"}, "xOffset": {"field": "c", "type": "nominal", "scale": {"domain": ["saline", "NLX"], "paddingInner": 0.04}}, "y": {"field": "v", "type": "quantitative", "title": "D"}}},
  {"data": {"name": "bars"}, "transform": [{"filter": "datum.k == 'FUF N'"}],
   "mark": {"type": "bar", "stroke": "#000", "strokeWidth": 1.3, "fill": {"gradient": "linear", "x1": 0, "y1": 1, "x2": 0.14, "y2": -0.11, "stops": [{"offset":0,"color":"#2B3FD8"},{"offset":0.0125,"color":"#000"},{"offset":0.025,"color":"#2B3FD8"},{"offset":0.0375,"color":"#000"},{"offset":0.05,"color":"#2B3FD8"},{"offset":0.0625,"color":"#000"},{"offset":0.075,"color":"#2B3FD8"},{"offset":0.0875,"color":"#000"},{"offset":0.1,"color":"#2B3FD8"},{"offset":0.1125,"color":"#000"},{"offset":0.125,"color":"#2B3FD8"},{"offset":0.1375,"color":"#000"},{"offset":0.15,"color":"#2B3FD8"},{"offset":0.1625,"color":"#000"},{"offset":0.175,"color":"#2B3FD8"},{"offset":0.1875,"color":"#000"},{"offset":0.2,"color":"#2B3FD8"},{"offset":0.2125,"color":"#000"},{"offset":0.225,"color":"#2B3FD8"},{"offset":0.2375,"color":"#000"},{"offset":0.25,"color":"#2B3FD8"},{"offset":0.2625,"color":"#000"},{"offset":0.275,"color":"#2B3FD8"},{"offset":0.2875,"color":"#000"},{"offset":0.3,"color":"#2B3FD8"},{"offset":0.3125,"color":"#000"},{"offset":0.325,"color":"#2B3FD8"},{"offset":0.3375,"color":"#000"},{"offset":0.35,"color":"#2B3FD8"},{"offset":0.3625,"color":"#000"},{"offset":0.375,"color":"#2B3FD8"},{"offset":0.3875,"color":"#000"},{"offset":0.4,"color":"#2B3FD8"},{"offset":0.4125,"color":"#000"},{"offset":0.425,"color":"#2B3FD8"},{"offset":0.4375,"color":"#000"},{"offset":0.45,"color":"#2B3FD8"},{"offset":0.4625,"color":"#000"},{"offset":0.475,"color":"#2B3FD8"},{"offset":0.4875,"color":"#000"},{"offset":0.5,"color":"#2B3FD8"},{"offset":0.5125,"color":"#000"},{"offset":0.525,"color":"#2B3FD8"},{"offset":0.5375,"color":"#000"},{"offset":0.55,"color":"#2B3FD8"},{"offset":0.5625,"color":"#000"},{"offset":0.575,"color":"#2B3FD8"},{"offset":0.5875,"color":"#000"},{"offset":0.6,"color":"#2B3FD8"},{"offset":0.6125,"color":"#000"},{"offset":0.625,"color":"#2B3FD8"},{"offset":0.6375,"color":"#000"},{"offset":0.65,"color":"#2B3FD8"},{"offset":0.6625,"color":"#000"},{"offset":0.675,"color":"#2B3FD8"},{"offset":0.6875,"color":"#000"},{"offset":0.7,"color":"#2B3FD8"},{"offset":0.7125,"color":"#000"},{"offset":0.725,"color":"#2B3FD8"},{"offset":0.7375,"color":"#000"},{"offset":0.75,"color":"#2B3FD8"},{"offset":0.7625,"color":"#000"},{"offset":0.775,"color":"#2B3FD8"},{"offset":0.7875,"color":"#000"},{"offset":0.8,"color":"#2B3FD8"},{"offset":0.8125,"color":"#000"},{"offset":0.825,"color":"#2B3FD8"},{"offset":0.8375,"color":"#000"},{"offset":0.85,"color":"#2B3FD8"},{"offset":0.8625,"color":"#000"},{"offset":0.875,"color":"#2B3FD8"},{"offset":0.8875,"color":"#000"},{"offset":0.9,"color":"#2B3FD8"},{"offset":0.9125,"color":"#000"},{"offset":0.925,"color":"#2B3FD8"},{"offset":0.9375,"color":"#000"},{"offset":0.95,"color":"#2B3FD8"},{"offset":0.9625,"color":"#000"},{"offset":0.975,"color":"#2B3FD8"},{"offset":0.9875,"color":"#000"},{"offset":1,"color":"#2B3FD8"}]}},
   "encoding": {"x": {"field": "g", "type": "nominal"}, "xOffset": {"field": "c", "type": "nominal", "scale": {"domain": ["saline", "NLX"], "paddingInner": 0.04}}, "y": {"field": "v", "type": "quantitative", "title": "D"}}},
  {"data": {"name": "bars"},
   "mark": {"type": "rule", "color": "#000", "strokeWidth": 1.2},
   "encoding": {"x": {"field": "g", "type": "nominal"}, "xOffset": {"field": "c", "type": "nominal", "scale": {"domain": ["saline", "NLX"], "paddingInner": 0.04}},
    "y": {"field": "v", "type": "quantitative", "title": "D"}, "y2": {"field": "hi"}}},
  {"data": {"name": "bars"},
   "mark": {"type": "tick", "orient": "horizontal", "color": "#000", "size": 7, "thickness": 1.2},
   "encoding": {"x": {"field": "g", "type": "nominal"}, "xOffset": {"field": "c", "type": "nominal", "scale": {"domain": ["saline", "NLX"], "paddingInner": 0.04}},
    "y": {"field": "hi", "type": "quantitative", "title": "D"}}},
  {"data": {"name": "dots"},
   "mark": {"type": "point", "filled": true, "shape": "circle", "stroke": "#000", "strokeWidth": 0.8, "size": 50, "opacity": 1},
   "encoding": {"x": {"field": "g", "type": "nominal"},
    "xOffset": {"field": "r", "type": "nominal", "scale": {"domain": ["s1", "s2", "s3", "s4", "s5", "s6", "s7", "n1", "n2", "n3", "n4", "n5", "n6", "n7"]}},
    "y": {"field": "v", "type": "quantitative", "title": "D"},
    "fill": {"field": "k", "type": "nominal", "legend": null, "scale": {"domain": ["saline S", "saline N", "FENT S", "FENT N", "ACRYLF S", "ACRYLF N", "OCF S", "OCF N", "FUF S", "FUF N"], "range": ["#ffffff", "#111111", "#F59C9C", "#8B0A0A", "#FFC36E", "#B8480E", "#DD7EDD", "#4B0B5C", "#80B4EE", "#14208A"]}}}},
  {"data": {"name": "dtx"},
   "mark": {"type": "text", "fontSize": 9, "fontWeight": "bold", "color": "#333"},
   "encoding": {"x": {"field": "g", "type": "nominal"}, "xOffset": {"field": "c", "type": "nominal", "scale": {"domain": ["saline", "NLX"], "paddingInner": 0.04}},
    "y": {"field": "v", "type": "quantitative", "title": "D"}, "text": {"field": "txt"}}}
 ],
 "resolve": {"scale": {"xOffset": "independent", "fill": "independent"}}
}
]
}
